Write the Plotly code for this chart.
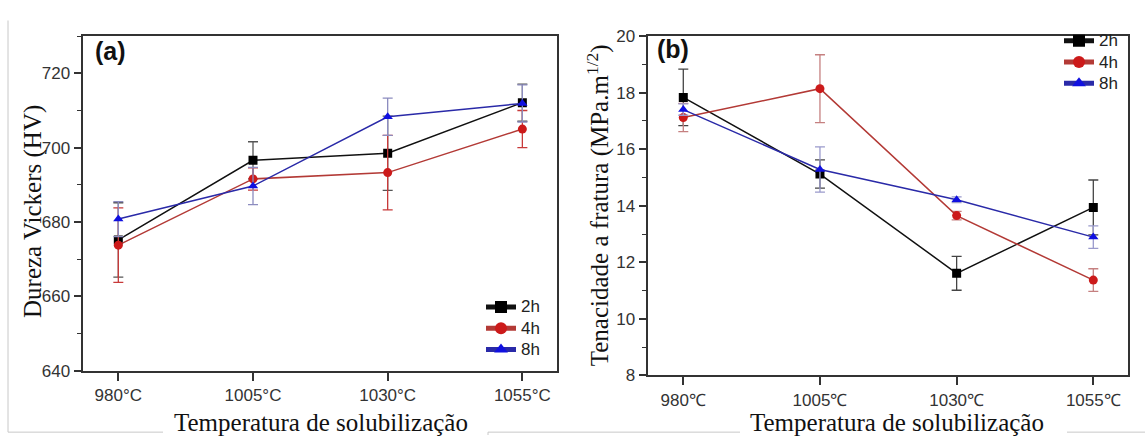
import plotly.graph_objects as go

W, H = 1145, 445

temps_a = ["980°C", "1005°C", "1030°C", "1055°C"]
temps_b = ["980℃", "1005℃", "1030℃", "1055℃"]
series = ["2h", "4h", "8h"]

hard_2h = [675.2, 696.6, 698.5, 712.1]
hard_2h_err = [10, 5, 10, 5]
hard_4h = [673.8, 691.6, 693.3, 705.0]
hard_4h_err = [10, 3, 10, 5]
hard_8h = [680.8, 689.7, 708.3, 711.9]
hard_8h_err = [4.7, 5, 5, 5]

tough_2h = [17.83, 15.12, 11.61, 13.94]
tough_2h_err = [1.0, 0.5, 0.6, 0.97]
tough_4h = [17.12, 18.14, 13.65, 11.37]
tough_4h_err = [0.5, 1.2, 0.15, 0.4]
tough_8h = [17.40, 15.28, 14.21, 12.89]
tough_8h_err = [0.2, 0.8, 0.1, 0.4]

styles = {
    "2h": dict(line="#111111", marker="#000000", symbol="square", err_a="#555555", err_b="#444444"),
    "4h": dict(line="#b33a36", marker="#cc1a1a", symbol="circle", err_a="#c83a3a", err_b="#c58080"),
    "8h": dict(line="#2a2aa8", marker="#1010e0", symbol="triangle-up", err_a="#8c8cbf", err_b="#9a9acc"),
}

hard = {"2h": (hard_2h, hard_2h_err), "4h": (hard_4h, hard_4h_err), "8h": (hard_8h, hard_8h_err)}
tough = {"2h": (tough_2h, tough_2h_err), "4h": (tough_4h, tough_4h_err), "8h": (tough_8h, tough_8h_err)}

def legend_name(s):
    return '<span style="font-size:17px">' + s + '</span>'

fig = go.Figure()

for s in series:
    st = styles[s]
    y, e = hard[s]
    fig.add_trace(go.Scatter(
        x=temps_a, y=y, name=legend_name(s), mode="lines+markers",
        line=dict(color=st["line"], width=1.5),
        marker=dict(color=st["marker"], symbol=st["symbol"], size=9),
        error_y=dict(type="data", array=e, visible=True, color=st["err_a"], thickness=1.3, width=5),
        xaxis="x", yaxis="y", legend="legend",
    ))
for s in series:
    st = styles[s]
    y, e = tough[s]
    fig.add_trace(go.Scatter(
        x=temps_b, y=y, name=legend_name(s), mode="lines+markers",
        line=dict(color=st["line"], width=1.5),
        marker=dict(color=st["marker"], symbol=st["symbol"], size=9),
        error_y=dict(type="data", array=e, visible=True, color=st["err_b"], thickness=1.3, width=5),
        xaxis="x2", yaxis="y2", legend="legend2",
    ))

def px_x(p):
    return p / W

def px_y(p):
    return 1 - p / H

axis_common = dict(
    showline=True, mirror=True, linecolor="#333333", linewidth=1.5,
    ticks="outside", ticklen=8, tickwidth=1.5, tickcolor="#333333",
    showgrid=False, zeroline=False,
    tickfont=dict(family="Liberation Sans, Arial", size=17, color="#333333"),
)

legend_font = dict(family="Liberation Sans, Arial", size=14, color="#222222")

fig.update_layout(
    width=W, height=H,
    margin=dict(l=0, r=0, t=0, b=0),
    paper_bgcolor="white", plot_bgcolor="white",
    xaxis=dict(domain=[px_x(83.3), px_x(556.7)], range=[-0.26, 3.255], type="category",
               anchor="y", **axis_common),
    yaxis=dict(domain=[px_y(378), px_y(28.3)], range=[640, 730], anchor="x",
               tickvals=[640, 660, 680, 700, 720],
               minor=dict(tickvals=[650, 670, 690, 710, 730], ticks="outside", ticklen=5,
                          tickwidth=1.3, tickcolor="#333333"),
               **axis_common),
    xaxis2=dict(domain=[px_x(648.3), px_x(1128.3)], range=[-0.256, 3.256], type="category",
                anchor="y2", **axis_common),
    yaxis2=dict(domain=[px_y(382.7), px_y(28.3)], range=[8, 20], anchor="x2",
                tickvals=[8, 10, 12, 14, 16, 18, 20],
                minor=dict(tickvals=[9, 11, 13, 15, 17, 19], ticks="outside", ticklen=5,
                           tickwidth=1.3, tickcolor="#333333"),
                **axis_common),
    legend=dict(x=px_x(481), y=px_y(295), xanchor="left", yanchor="top",
                bgcolor="rgba(0,0,0,0)", font=legend_font,
                tracegroupgap=0, itemsizing="constant"),
    legend2=dict(x=px_x(1059), y=px_y(17), xanchor="left", yanchor="top",
                 bgcolor="rgba(0,0,0,0)", font=legend_font,
                 tracegroupgap=0, itemsizing="constant"),
    showlegend=True,
)

serif = dict(family="Liberation Serif, Times New Roman, serif", size=25, color="#111111")

annotations = [
    dict(text="Dureza Vickers (HV)", x=px_x(33), y=px_y(212), textangle=-90, font=serif),
    dict(text="Tenacidade a fratura (MPa.m<sup>1/2</sup>)", x=px_x(598), y=px_y(205), textangle=-90, font=serif),
    dict(text="Temperatura de solubilização", x=px_x(321), y=px_y(432), font=serif),
    dict(text="Temperatura de solubilização", x=px_x(897), y=px_y(432), font=serif),
    dict(text="(a)", x=px_x(93), y=px_y(44), xanchor="left",
         font=dict(family="Liberation Sans, Arial", size=25, color="#111111", weight="bold")),
    dict(text="(b)", x=px_x(655), y=px_y(42), xanchor="left",
         font=dict(family="Liberation Sans, Arial", size=25, color="#111111", weight="bold")),
]
for a in annotations:
    a.setdefault("xanchor", "center")
    fig.add_annotation(xref="paper", yref="paper", showarrow=False, yanchor="middle", **a)

# faint page border lines from the scanned figure
border = "#c8c8c8"
segs = [
    (8, 12, 8, 442),
    (8, 442, 163, 442),
    (488, 442, 740, 442),
    (1067, 442, 1145, 442),
    (488, 442, 488, 445),
]
for x0, y0, x1, y1 in segs:
    fig.add_shape(type="line", xref="paper", yref="paper",
                  x0=px_x(x0), y0=px_y(y0), x1=px_x(x1), y1=px_y(y1),
                  line=dict(color=border, width=1))

fig.write_html("out.html")
